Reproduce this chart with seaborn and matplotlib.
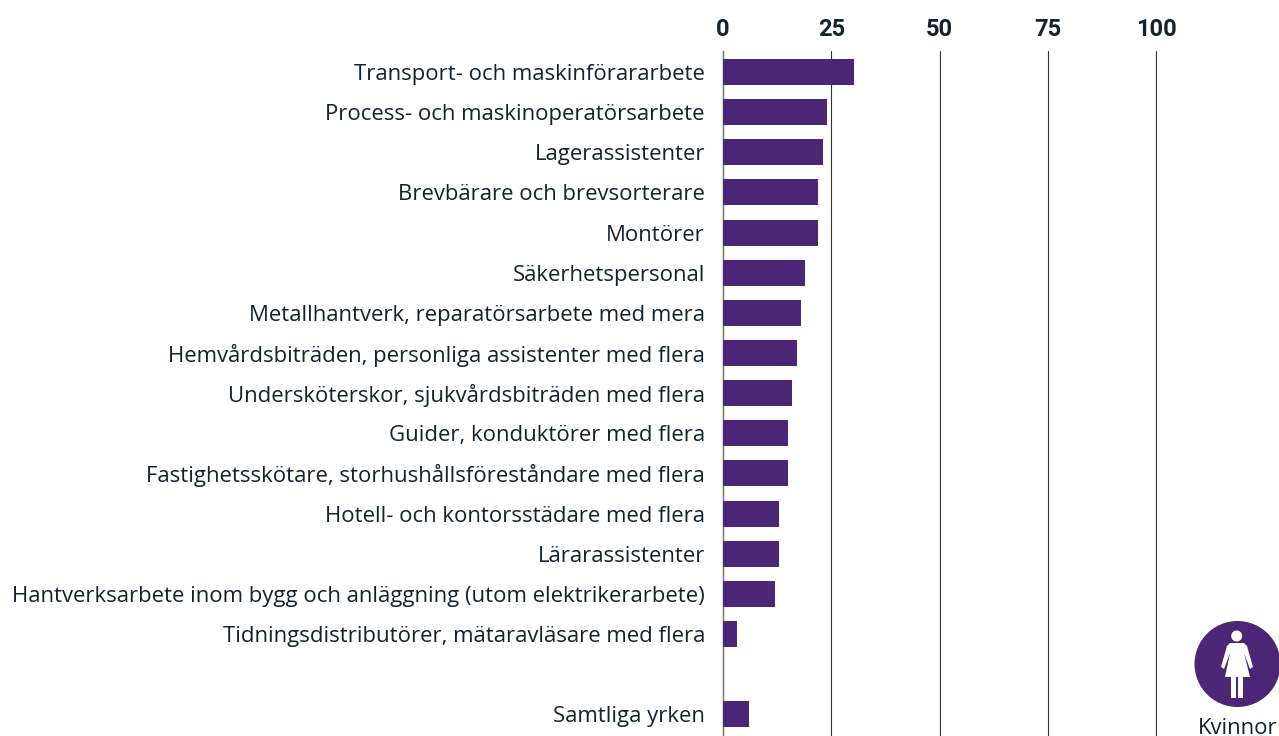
import pandas as pd
import seaborn as sns
import matplotlib.pyplot as plt
from matplotlib.patches import Circle, Polygon, Rectangle

yrken = [
    "Transport- och maskinförararbete",
    "Process- och maskinoperatörsarbete",
    "Lagerassistenter",
    "Brevbärare och brevsorterare",
    "Montörer",
    "Säkerhetspersonal",
    "Metallhantverk, reparatörsarbete med mera",
    "Hemvårdsbiträden, personliga assistenter med flera",
    "Undersköterskor, sjukvårdsbiträden med flera",
    "Guider, konduktörer med flera",
    "Fastighetsskötare, storhushållsföreståndare med flera",
    "Hotell- och kontorsstädare med flera",
    "Lärarassistenter",
    "Hantverksarbete inom bygg och anläggning (utom elektrikerarbete)",
    "Tidningsdistributörer, mätaravläsare med flera",
    " ",
    "Samtliga yrken",
]
andel = [30.3, 24, 23, 22, 22, 19, 18, 17, 16, 15, 15, 13, 13, 12, 3.2, None, 6]
ticks = [0, 25, 50, 75, 100]

PURPLE = "#4c2676"
INK = "#13222e"
W, H = 1279, 736

df = pd.DataFrame({"yrke": yrken, "andel": andel})

sns.set_theme(style="white")
plt.rcParams["font.family"] = ["Open Sans", "DejaVu Sans"]

fig = plt.figure(figsize=(W / 100, H / 100), dpi=100)
ax = fig.add_axes([723 / W, 0, (1156 - 723) / W, (H - 51) / H])

sns.barplot(data=df, x="andel", y="yrke", order=yrken, color=PURPLE,
            saturation=1, width=0.65, orient="h", linewidth=0, ax=ax, zorder=3)

ax.set_xlim(0, 100)
ax.set_ylim(16.54, -0.523)
ax.set_xlabel("")
ax.set_ylabel("")
ax.xaxis.tick_top()
ax.set_xticks(ticks)
ax.set_xticklabels(ticks, fontfamily="Roboto", fontweight="bold", fontsize=17, color=INK)
ax.tick_params(axis="x", length=0, pad=7)
ax.tick_params(axis="y", length=0, pad=13, labelsize=15.9, labelcolor=INK)
ax.grid(axis="x", color="#333333", linewidth=0.8, zorder=0)
ax.grid(axis="y", visible=False)
for line in ax.get_xgridlines():
    line.set_clip_on(False)
sns.despine(ax=ax, top=True, right=True, bottom=True, left=False)
ax.spines["left"].set_color("#777777")
ax.spines["left"].set_linewidth(1)

# kvinna-ikonen nere till höger, i pixelkoordinater
icon = fig.add_axes([0, 0, 1, 1], zorder=5)
icon.set_xlim(0, W)
icon.set_ylim(H, 0)
icon.axis("off")
icon.add_patch(Circle((1237.5, 664), 43, color=PURPLE, lw=0))
icon.add_patch(Circle((1236.7, 636), 5.5, color="white", lw=0))
icon.add_patch(Polygon([(1230, 643), (1244, 643), (1247, 646), (1253, 667), (1250, 669),
                        (1244, 653), (1250, 677), (1225, 677), (1230, 653), (1224, 669),
                        (1221, 667), (1227, 646)], closed=True, color="white", lw=0))
icon.add_patch(Rectangle((1231, 676), 5, 22, color="white", lw=0))
icon.add_patch(Rectangle((1238, 676), 5, 22, color="white", lw=0))
icon.text(1238, 729, "Kvinnor", ha="center", va="center", fontsize=15.9, color=INK)

fig.savefig("out.png", dpi=100)
